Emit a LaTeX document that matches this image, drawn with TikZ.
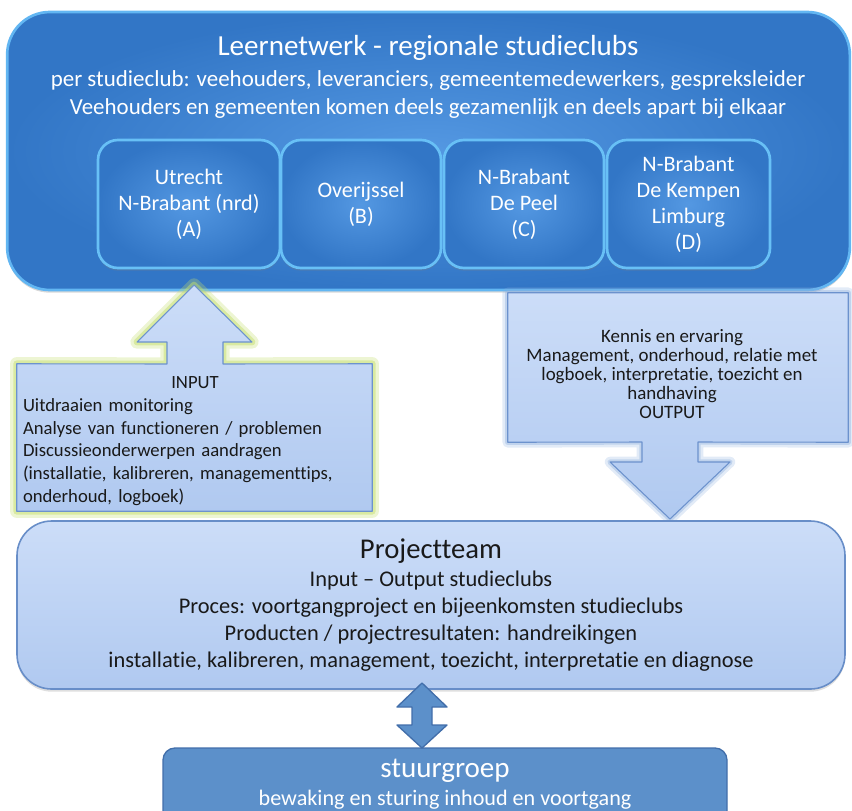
\documentclass[tikz,border=0pt]{standalone}
\usepackage{fontspec}
\setmainfont{Carlito}[Ligatures=NoCommon]
\usetikzlibrary{shadows}

\definecolor{netout}{RGB}{50,118,198}
\definecolor{netin}{RGB}{84,152,226}
\definecolor{netline}{RGB}{98,182,242}
\definecolor{clubline}{RGB}{104,192,246}
\definecolor{lighttop}{RGB}{204,221,248}
\definecolor{lightbot}{RGB}{176,201,240}
\definecolor{lightline}{RGB}{108,146,205}
\definecolor{projline}{RGB}{104,142,200}
\definecolor{darkfill}{RGB}{92,144,202}
\definecolor{darkline}{RGB}{66,110,170}
\definecolor{glowyel}{RGB}{196,222,110}
\definecolor{glowblue}{RGB}{140,175,222}
\definecolor{inktext}{RGB}{25,25,25}

\begin{document}
\begin{tikzpicture}[x=0.75pt, y=-0.75pt, line join=round,
    netbox/.style={rectangle, rounded corners=32pt, draw=netline, line width=2pt,
      inner color=netin, outer color=netout,
      drop shadow={opacity=0.3, shadow xshift=0pt, shadow yshift=-2pt}},
    club/.style={rectangle, rounded corners=15pt, draw=clubline, line width=2pt,
      inner color=netin, outer color=netout, minimum height=96pt,
      text=white, align=center, font=\fontsize{16.6}{19.5}\selectfont,
      drop shadow={opacity=0.3, shadow xshift=0pt, shadow yshift=-2pt}},
    callout/.style={draw=lightline, line width=0.8pt, top color=lighttop, bottom color=lightbot},
    projbox/.style={rectangle, rounded corners=26pt, draw=projline, line width=1.2pt,
      top color=lighttop, bottom color=lightbot, text=inktext, align=center,
      drop shadow={opacity=0.25, shadow xshift=0pt, shadow yshift=-2pt}},
    darkshape/.style={fill=darkfill, draw=darkline, line width=1pt}]

  \clip (0,0) rectangle (852,810);

  % --- leernetwerk ---
  \node[netbox, minimum width=632pt, minimum height=208.5pt] (net) at (428.5,151) {};
  \node[anchor=north, inner sep=0pt, text=white, align=center,
        font=\fontsize{17.2}{21}\selectfont] (nettxt) at (428,35)
    {{\fontsize{21.8}{22}\selectfont Leernetwerk - regionale studieclubs}\\[2pt]
     per studieclub: veehouders, leveranciers, gemeentemedewerkers, gespreksleider\\
     Veehouders en gemeenten komen deels gezamenlijk en deels apart bij elkaar};

  \node[club, minimum width=136.5pt] (clubA) at (189,204) {Utrecht\\N-Brabant (nrd)\\(A)};
  \node[club, minimum width=120pt] (clubB) at (361,204) {Overijssel\\(B)};
  \node[club, minimum width=120pt] (clubC) at (524,204) {N-Brabant\\De Peel\\(C)};
  \node[club, minimum width=122.25pt] (clubD) at (688.5,204) {N-Brabant\\De Kempen\\Limburg\\(D)};

  % --- input ---
  \node[minimum width=266.25pt, minimum height=110.25pt, inner sep=0pt] (inbox) at (194.5,437.5) {};
  \coordinate (intip) at (194,285);
  \draw[callout,
        preaction={draw=glowyel, line width=10pt, opacity=0.3},
        preaction={draw=glowyel, line width=5pt, opacity=0.5}]
    (inbox.north west) -- (167,364) -- (167,342) -- (137,342) -- (intip)
    -- (252,342) -- (223,342) -- (223,364) -- (inbox.north east)
    -- (inbox.south east) -- (inbox.south west) -- cycle;
  \node[text width=258pt, align=left, inner sep=0pt, text=inktext,
        font=\fontsize{14}{17}\selectfont] (intxt) at (195,441)
    {{\centering INPUT\par}
     Uitdraaien monitoring\\
     Analyse van functioneren / problemen\\
     Discussieonderwerpen aandragen\\
     (installatie, kalibreren, managementtips,\\
     onderhoud, logboek)};

  % --- output ---
  \node[minimum width=255pt, minimum height=111.75pt, inner sep=0pt] (outbox) at (678,367.5) {};
  \coordinate (outtip) at (670,519);
  \draw[callout,
        preaction={draw=glowblue, line width=8pt, opacity=0.25},
        preaction={draw=glowblue, line width=4pt, opacity=0.4}]
    (outbox.north west) -- (outbox.north east) -- (outbox.south east)
    -- (698,442) -- (698,462) -- (730,462) -- (outtip) -- (610,462)
    -- (642,462) -- (642,442) -- (outbox.south west) -- cycle;
  \node[align=center, inner sep=0pt, text=inktext,
        font=\fontsize{14.2}{14.3}\selectfont] (outtxt) at (672,374)
    {Kennis en ervaring\\
     Management, onderhoud, relatie met\\
     logboek, interpretatie, toezicht en\\
     handhaving\\
     OUTPUT};

  % --- projectteam ---
  \node[projbox, minimum width=621pt, minimum height=126pt,
        font=\fontsize{16.8}{20.3}\selectfont] (proj) at (431,605)
    {{\fontsize{21.5}{22}\selectfont Projectteam}\\[1pt]
     Input -- Output studieclubs\\
     Proces: voortgangproject en bijeenkomsten studieclubs\\
     Producten / projectresultaten: handreikingen\\
     installatie, kalibreren, management, toezicht, interpretatie en diagnose};

  % --- stuurgroep ---
  \node[rectangle, rounded corners=9pt, darkshape, minimum width=423pt,
        minimum height=75pt] (stuur) at (445,798) {};
  \node[text=white, align=center, inner sep=0pt,
        font=\fontsize{16.6}{21}\selectfont] (stuurtxt) at (445,784)
    {{\fontsize{21.8}{22}\selectfont stuurgroep}\\
     bewaking en sturing inhoud en voortgang};

  % dubbele pijl
  \draw[darkshape] (422,683) -- (447,707) -- (432,707) -- (432,725) -- (447,725)
    -- (422,748) -- (397,725) -- (412,725) -- (412,707) -- (397,707) -- cycle;

\end{tikzpicture}
\end{document}
